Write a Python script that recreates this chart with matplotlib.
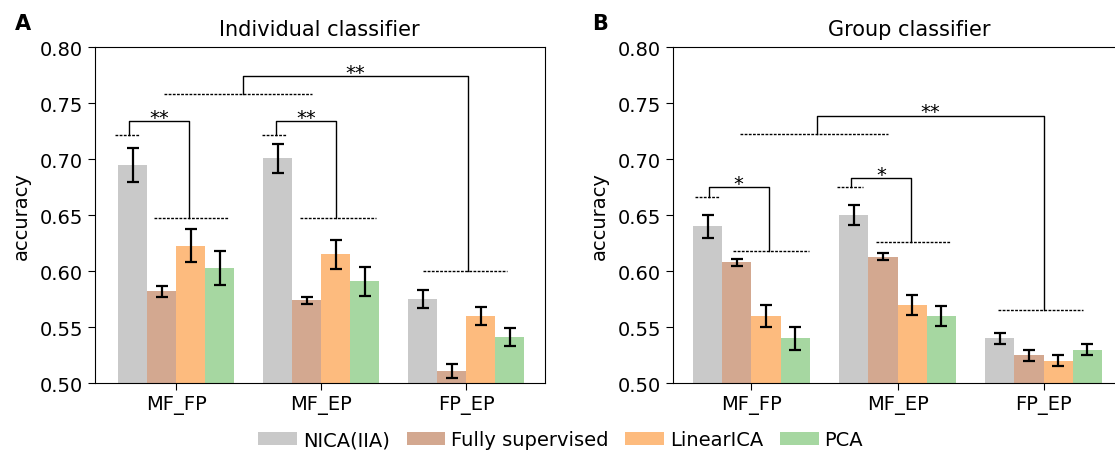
import numpy as np
import matplotlib.pyplot as plt

# data
pairs = ["MF_FP", "MF_EP", "FP_EP"]
methods = ["NICA(IIA)", "Fully supervised", "LinearICA", "PCA"]
colors = ["#c9c9c9", "#d3a890", "#fdbb7e", "#a6d7a1"]

# individual classifier (rows = methods, cols = pairs)
ind_mean = [[0.695, 0.701, 0.575],
            [0.582, 0.574, 0.511],
            [0.623, 0.615, 0.560],
            [0.603, 0.591, 0.541]]
ind_err = [[0.015, 0.013, 0.008],
           [0.005, 0.003, 0.006],
           [0.015, 0.013, 0.008],
           [0.015, 0.013, 0.008]]

# group classifier
grp_mean = [[0.640, 0.650, 0.540],
            [0.608, 0.613, 0.525],
            [0.560, 0.570, 0.520],
            [0.540, 0.560, 0.530]]
grp_err = [[0.010, 0.009, 0.005],
           [0.003, 0.003, 0.005],
           [0.010, 0.009, 0.005],
           [0.010, 0.009, 0.005]]


def bracket(ax, xl, yl, dl, xr, yr, dr, ytop, star):
    # dotted baselines, solid bracket and significance stars
    ax.plot(dl, [yl, yl], color="k", lw=1, ls=(0, (2, 1)))
    ax.plot(dr, [yr, yr], color="k", lw=1, ls=(0, (2, 1)))
    ax.plot([xl, xl, xr, xr], [yl, ytop, ytop, yr], color="k", lw=1)
    ax.annotate(star, xy=((xl + xr) / 2, ytop), xytext=(0, -1),
                textcoords="offset points", ha="center", va="baseline",
                fontsize=14)


def draw_panel(ax, mean, err, title):
    x = np.arange(len(pairs))
    w = 0.2
    for i in range(len(methods)):
        ax.bar(x + (i - 1.5) * w, mean[i], w, yerr=err[i], color=colors[i],
               label=methods[i], capsize=4.5,
               error_kw=dict(elinewidth=1.6, capthick=1.6, ecolor="k"))
    ax.set_ylim(0.5, 0.8)
    ax.set_yticks(np.arange(0.5, 0.801, 0.05))
    ax.set_xticks(x)
    ax.set_xticklabels(pairs)
    ax.tick_params(labelsize=14, length=5)
    ax.set_ylabel("accuracy", fontsize=14, labelpad=6)
    ax.set_title(title, fontsize=15, pad=9)


fig = plt.figure(figsize=(11.15, 4.52), dpi=100)
ax1 = fig.add_axes([0.0849, 0.150, 0.4035, 0.743])
ax2 = fig.add_axes([0.6032, 0.150, 0.4035, 0.743])

draw_panel(ax1, ind_mean, ind_err, "Individual classifier")
draw_panel(ax2, grp_mean, grp_err, "Group classifier")
ax2.title.set_x(0.526)

# Individual classifier annotations
bracket(ax1, 0.46, 0.758, [-0.08, 0.94], 2.01, 0.600, [1.70, 2.28], 0.774, "**")
bracket(ax1, -0.324, 0.722, [-0.42, -0.245], 0.091, 0.648, [-0.152, 0.36], 0.734, "**")
bracket(ax1, 0.689, 0.722, [0.596, 0.767], 1.103, 0.648, [0.858, 1.377], 0.734, "**")

# Group classifier annotations
bracket(ax2, 0.45, 0.723, [-0.075, 0.935], 2.0, 0.565, [1.688, 2.27], 0.739, "**")
bracket(ax2, -0.293, 0.666, [-0.387, -0.215], 0.119, 0.618, [-0.128, 0.392], 0.675, "*")
bracket(ax2, 0.683, 0.675, [0.588, 0.763], 1.094, 0.626, [0.850, 1.368], 0.683, "*")

fig.text(0.0135, 0.9336, "A", fontsize=15, fontweight="bold", va="baseline")
fig.text(0.531, 0.9336, "B", fontsize=15, fontweight="bold", va="baseline")

handles, labels = ax1.get_legend_handles_labels()
fig.legend(handles, labels, loc="center", bbox_to_anchor=(0.503, 0.025),
           ncol=4, frameon=False, fontsize=14, handletextpad=0.3,
           columnspacing=0.85, borderaxespad=0)

fig.savefig("out.png", dpi=100)
